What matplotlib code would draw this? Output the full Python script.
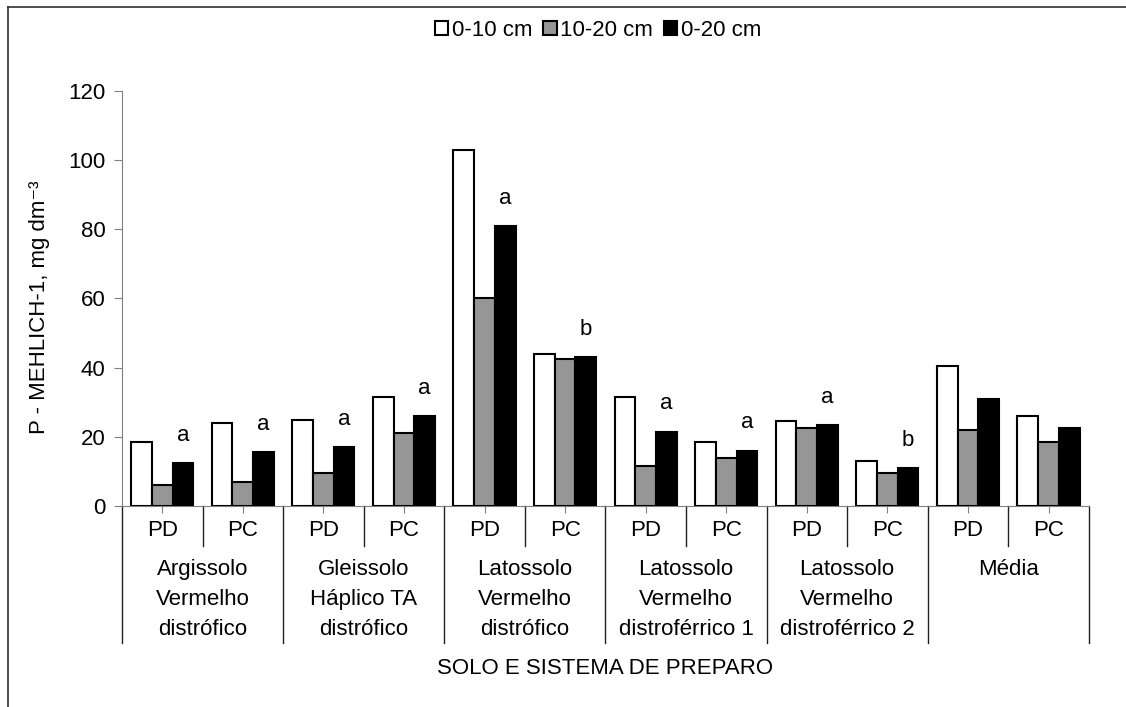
import numpy as np
import matplotlib.pyplot as plt
from matplotlib.lines import Line2D

plt.rcParams['font.family'] = ['Liberation Sans', 'DejaVu Sans']

solos = ["Argissolo\nVermelho\ndistrófico", "Gleissolo\nHáplico TA\ndistrófico",
         "Latossolo\nVermelho\ndistrófico", "Latossolo\nVermelho\ndistroférrico 1",
         "Latossolo\nVermelho\ndistroférrico 2", "Média"]
sistemas = ["PD", "PC"] * 6
series_names = ["0-10 cm", "10-20 cm", "0-20 cm"]

p_0_10 = [18.5, 24, 25, 31.5, 103, 44, 31.5, 18.5, 24.5, 13, 40.5, 26]
p_10_20 = [6, 7, 9.5, 21, 60, 42.5, 11.5, 14, 22.5, 9.5, 22, 18.5]
p_0_20 = [12.5, 15.5, 17, 26, 81, 43, 21.5, 16, 23.5, 11, 31, 22.5]
letras = ["a", "a", "a", "a", "a", "b", "a", "a", "a", "b", "", ""]

fs = 16
fig = plt.figure(figsize=(11.26, 7.07), dpi=100)
ax = fig.add_axes([0.1083, 0.2843, 0.8587, 0.587])

x = np.arange(len(sistemas))
w = 0.257
colors = ["white", "#969696", "black"]
for k, vals in enumerate([p_0_10, p_10_20, p_0_20]):
    ax.bar(x + (k - 1) * w, vals, width=w, color=colors[k], edgecolor="black",
           linewidth=1.5, label=series_names[k], zorder=3)

for i, let in enumerate(letras):
    if let:
        ax.text(x[i] + w, p_0_20[i] + 8, let, ha="center", va="center", fontsize=fs)

ax.set_xlim(-0.5, len(sistemas) - 0.5)
ax.set_ylim(0, 120)
ax.set_yticks(np.arange(0, 121, 20))
ax.tick_params(axis="y", labelsize=fs, length=6, color="#808080", pad=6)
ax.set_xticks(x)
ax.set_xticklabels([])
ax.tick_params(axis="x", length=5, color="#808080")
for s in ["top", "right"]:
    ax.spines[s].set_visible(False)
ax.spines["left"].set_color("#808080")
ax.spines["bottom"].set_color("#808080")

# category labels and separators
tr = ax.get_xaxis_transform()
for i, s in enumerate(sistemas):
    ax.text(x[i], -0.058, s, transform=tr, ha="center", va="center", fontsize=fs)
for b in np.arange(-0.5, len(sistemas), 1.0):
    low = -0.330 if int(b + 0.5) % 2 == 0 else -0.0964
    ax.add_line(Line2D([b, b], [0, low], transform=tr, color="#202020",
                       linewidth=1, clip_on=False))
for g, name in enumerate(solos):
    ax.text(2 * g + 0.5, -0.128, name, transform=tr, ha="center", va="top",
            fontsize=fs, linespacing=1.55)

fig.text(0.5375, 0.055, "SOLO E SISTEMA DE PREPARO", ha="center", va="center", fontsize=fs)
fig.text(0.0355, 0.565, "P - MEHLICH-1, mg dm⁻³", rotation=90, ha="center",
         va="center", fontsize=fs)

fig.legend(loc="center", bbox_to_anchor=(0.531, 0.957), ncol=3, frameon=False,
           fontsize=fs, handlelength=0.6, handleheight=0.6, handletextpad=0.15,
           columnspacing=0.5)

# outer frame (top and left edges visible)
fig.add_artist(Line2D([0.007, 0.007], [0, 0.99], transform=fig.transFigure, color="#303030", linewidth=1.2))
fig.add_artist(Line2D([0.007, 1], [0.99, 0.99], transform=fig.transFigure, color="#303030", linewidth=1.2))

fig.savefig("out.png", dpi=100)
